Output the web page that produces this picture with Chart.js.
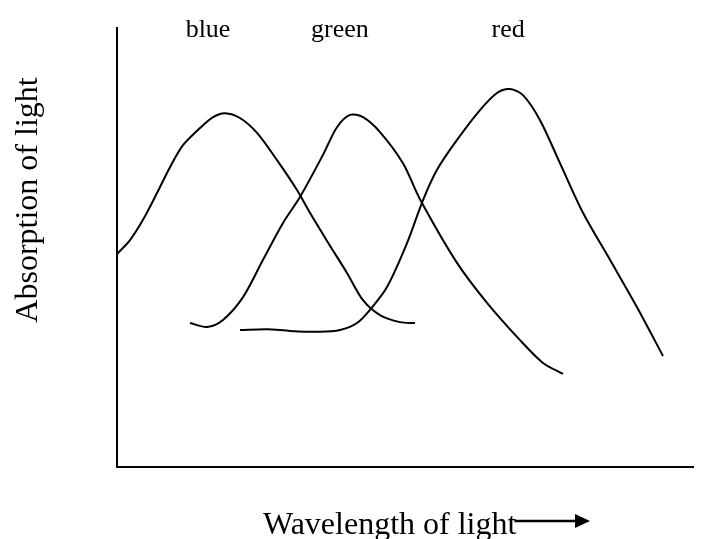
<!DOCTYPE html>
<html>
<head>
<meta charset="utf-8">
<title>Absorption of light</title>
<script src="https://cdn.jsdelivr.net/npm/chart.js@4/dist/chart.umd.min.js"></script>
<style>
  html, body { margin: 0; padding: 0; background: #fff; }
  #absorptionChart { display: block; }
</style>
</head>
<body>
<canvas id="absorptionChart" width="706" height="539"></canvas>
<script>
// Curve names, written above each peak
const curveNames = ['blue', 'green', 'red'];
// Where each name sits along the wavelength axis
const nameX = [15.8, 38.7, 67.9];

// Absorption curves (arbitrary units, wavelength 0-100, absorption 0-100)
const blueX = [0, 2.26, 4.51, 6.94, 9.2, 11.46, 14.41, 16.67, 18.75, 21.35, 24.31, 27.78, 31.25,
    33.5, 36.46, 39.93, 42.71, 45.66, 49.13, 51.74];
const blueY = [48.5, 51.7, 56.3, 62.4, 68.3, 73.3, 77.2, 79.7, 80.6, 79.5, 76.1, 69.9, 63.1,
    57.9, 51.5, 44.2, 38.0, 34.6, 33.0, 32.8];

const greenX = [12.67, 15.63, 18.4, 21.88, 25.35, 28.82, 31.77, 35.76, 38.19, 40.45, 42.71, 45.66,
    49.65, 52.6, 59.03, 64.24, 69.97, 73.96, 77.43];
const greenY = [32.8, 31.9, 33.5, 38.7, 47.2, 55.6, 61.5, 71.1, 77.4, 80.2, 79.7, 76.3,
    69.2, 61.0, 46.5, 37.4, 28.9, 23.7, 21.2];

const redX = [21.35, 26.04, 30.03, 35.24, 38.72, 41.67, 43.92, 46.88, 50.35, 53.13, 55.56, 59.03,
    63.02, 65.97, 68.23, 70.49, 73.44, 76.91, 80.9, 85.59, 90.28, 94.79];
const redY = [31.2, 31.4, 31.0, 30.8, 31.2, 32.8, 35.8, 41.0, 51.0, 60.8, 67.7, 74.5,
    81.3, 85.2, 86.1, 84.7, 79.0, 69.2, 57.9, 47.2, 36.4, 25.3];

const xTitle = 'Wavelength of light';
const yTitle = 'Absorption of light';

function toPoints(xs, ys) {
    return xs.map((x, i) => ({ x: x, y: ys[i] }));
}

function curve(label, xs, ys) {
    return {
        label: label,
        data: toPoints(xs, ys),
        borderColor: '#000',
        borderWidth: 2,
        pointRadius: 0,
        tension: 0.3,
        fill: false
    };
}

const serif = '"Liberation Serif", "Times New Roman", serif';

// Draws the curve names, the axis titles and the arrow
const labelsPlugin = {
    id: 'labels',
    afterDraw(chart) {
        const ctx = chart.ctx;
        const xScale = chart.scales.x;
        ctx.save();
        ctx.fillStyle = '#000';

        ctx.font = '26px ' + serif;
        ctx.textAlign = 'center';
        ctx.textBaseline = 'alphabetic';
        curveNames.forEach((name, i) => {
            ctx.fillText(name, xScale.getPixelForValue(nameX[i]), 37);
        });

        ctx.font = '32px ' + serif;
        ctx.textAlign = 'left';
        ctx.fillText(xTitle, 263, 534);
        const textEnd = 263 + ctx.measureText(xTitle).width;

        // arrow after the x title
        ctx.strokeStyle = '#000';
        ctx.lineWidth = 2.5;
        ctx.beginPath();
        ctx.moveTo(textEnd - 2, 521);
        ctx.lineTo(578, 521);
        ctx.stroke();
        ctx.beginPath();
        ctx.moveTo(575, 514);
        ctx.lineTo(590, 521);
        ctx.lineTo(575, 528);
        ctx.closePath();
        ctx.fill();

        ctx.translate(37, 200);
        ctx.rotate(-Math.PI / 2);
        ctx.textAlign = 'center';
        ctx.fillText(yTitle, 0, 0);
        ctx.restore();
    }
};

new Chart(document.getElementById('absorptionChart'), {
    type: 'line',
    data: {
        datasets: [
            curve(curveNames[0], blueX, blueY),
            curve(curveNames[1], greenX, greenY),
            curve(curveNames[2], redX, redY)
        ]
    },
    options: {
        responsive: false,
        animation: false,
        layout: {
            padding: { left: 117, top: 28, right: 13, bottom: 72 }
        },
        plugins: {
            legend: { display: false },
            tooltip: { enabled: false }
        },
        scales: {
            x: {
                type: 'linear',
                min: 0,
                max: 100,
                ticks: { display: false },
                grid: { display: false, drawTicks: false },
                border: { display: true, color: '#000', width: 2 }
            },
            y: {
                min: 0,
                max: 100,
                ticks: { display: false },
                grid: { display: false, drawTicks: false },
                border: { display: true, color: '#000', width: 2 }
            }
        }
    },
    plugins: [labelsPlugin]
});
</script>
</body>
</html>
